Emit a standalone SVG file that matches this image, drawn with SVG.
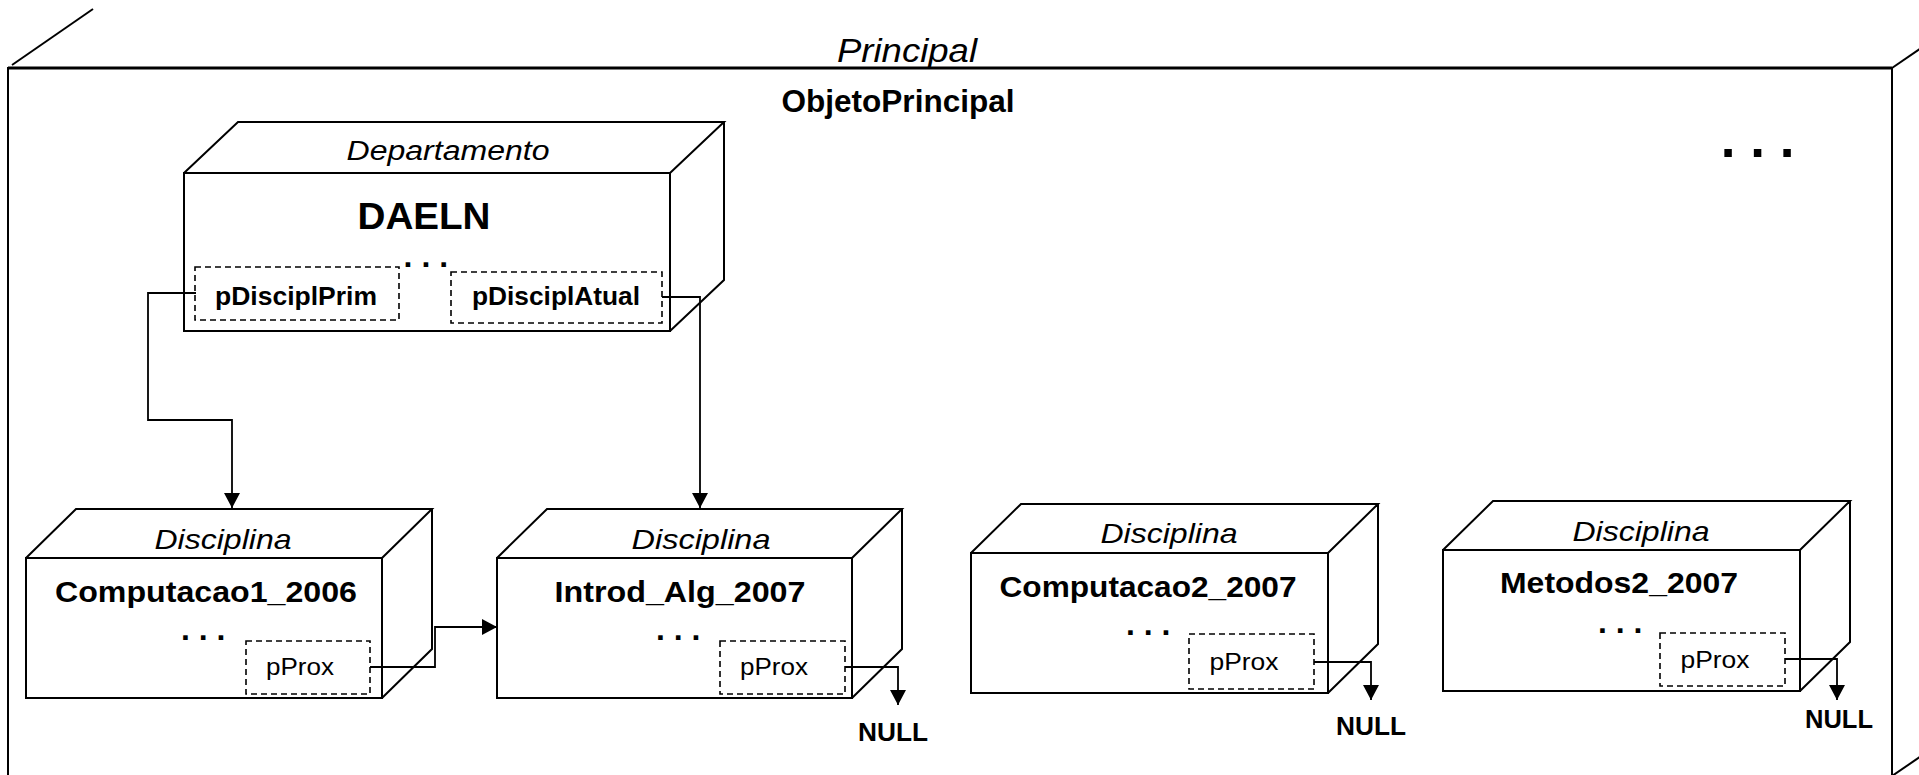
<svg xmlns="http://www.w3.org/2000/svg" width="1919" height="775" viewBox="0 0 1919 775">
  <style>
    .edge { fill: none; stroke: #000; stroke-width: 2; stroke-linejoin: miter; }
    .field { fill: none; stroke: #000; stroke-width: 1.6; stroke-dasharray: 6 4; }
    .wire { fill: none; stroke: #000; stroke-width: 1.8; }
    .t { font-family: "Liberation Sans", Arial, sans-serif; fill: #000; }
    .cls { font-style: italic; }
    .b { font-weight: bold; }
    .mid { text-anchor: middle; }
  </style>
  <defs>
    <marker id="arrow" viewBox="0 0 15 16" refX="15" refY="8" markerWidth="15" markerHeight="16" markerUnits="userSpaceOnUse" orient="auto">
      <path d="M0,0 L15,8 L0,16 z" fill="#000"/>
    </marker>
  </defs>

  <rect width="1919" height="775" fill="#fff"/>

  <!-- outer container: Principal -->
  <g id="principal">
    <path class="edge" d="M8,776 V68 H1892 V776"/>
    <path class="edge" d="M12,65 L93,9"/>
    <path class="edge" d="M1892,68 L1974,12"/>
    <path class="edge" d="M1892,776 L1974,720"/>
    <line x1="8" y1="68" x2="1892" y2="68" stroke="#000" stroke-width="3"/>
    <text class="t cls mid" x="907" y="62" font-size="33" textLength="140" lengthAdjust="spacingAndGlyphs">Principal</text>
    <text class="t b mid" x="898" y="112" font-size="32" textLength="233" lengthAdjust="spacingAndGlyphs">ObjetoPrincipal</text>
    <text class="t b" x="1720.8" y="157" font-size="53">. . .</text>
  </g>

  <!-- Departamento DAELN -->
  <g id="daeln">
    <path class="edge" d="M184,173 H670 V331 H184 Z M184,173 L238,122 H724 L670,173 M724,122 V280 L670,331"/>
    <text class="t cls mid" x="448" y="160" font-size="27" textLength="203" lengthAdjust="spacingAndGlyphs">Departamento</text>
    <text class="t b mid" x="424" y="229" font-size="37" textLength="133" lengthAdjust="spacingAndGlyphs">DAELN</text>
    <rect class="field" x="195" y="267" width="204" height="53"/>
    <text class="t b mid" x="296" y="305" font-size="25" textLength="162" lengthAdjust="spacingAndGlyphs">pDisciplPrim</text>
    <text class="t b" x="403.6" y="267" font-size="32">. . .</text>
    <rect class="field" x="451" y="272" width="211" height="51"/>
    <text class="t b mid" x="556" y="305" font-size="25" textLength="168" lengthAdjust="spacingAndGlyphs">pDisciplAtual</text>
  </g>

  <!-- Disciplina Computacao1_2006 -->
  <g id="computacao1">
    <path class="edge" d="M26,558 H382 V698 H26 Z M26,558 L76,509 H432 L382,558 M432,509 V649 L382,698"/>
    <text class="t cls mid" x="223" y="549" font-size="28" textLength="137" lengthAdjust="spacingAndGlyphs">Disciplina</text>
    <text class="t b mid" x="206" y="602" font-size="29" textLength="302" lengthAdjust="spacingAndGlyphs">Computacao1_2006</text>
    <text class="t b" x="181" y="640" font-size="32">. . .</text>
    <rect class="field" x="246" y="641" width="124" height="53"/>
    <text class="t mid" x="300" y="675" font-size="23" textLength="68" lengthAdjust="spacingAndGlyphs">pProx</text>
  </g>

  <!-- Disciplina Introd_Alg_2007 -->
  <g id="introdalg">
    <path class="edge" d="M497,558 H852 V698 H497 Z M497,558 L547,509 H902 L852,558 M902,509 V649 L852,698"/>
    <text class="t cls mid" x="701" y="549" font-size="28" textLength="139" lengthAdjust="spacingAndGlyphs">Disciplina</text>
    <text class="t b mid" x="680" y="602" font-size="29" textLength="251" lengthAdjust="spacingAndGlyphs">Introd_Alg_2007</text>
    <text class="t b" x="656" y="640" font-size="32">. . .</text>
    <rect class="field" x="720" y="641" width="125" height="53"/>
    <text class="t mid" x="774" y="675" font-size="23" textLength="68" lengthAdjust="spacingAndGlyphs">pProx</text>
  </g>

  <!-- Disciplina Computacao2_2007 -->
  <g id="computacao2">
    <path class="edge" d="M971,553 H1328 V693 H971 Z M971,553 L1021,504 H1378 L1328,553 M1378,504 V644 L1328,693"/>
    <text class="t cls mid" x="1169" y="543" font-size="28" textLength="137" lengthAdjust="spacingAndGlyphs">Disciplina</text>
    <text class="t b mid" x="1148" y="597" font-size="29" textLength="297" lengthAdjust="spacingAndGlyphs">Computacao2_2007</text>
    <text class="t b" x="1126" y="635" font-size="32">. . .</text>
    <rect class="field" x="1189" y="634" width="125" height="55"/>
    <text class="t mid" x="1244" y="670" font-size="23" textLength="69" lengthAdjust="spacingAndGlyphs">pProx</text>
  </g>

  <!-- Disciplina Metodos2_2007 -->
  <g id="metodos2">
    <path class="edge" d="M1443,550 H1800 V691 H1443 Z M1443,550 L1493,501 H1850 L1800,550 M1850,501 V642 L1800,691"/>
    <text class="t cls mid" x="1641" y="541" font-size="28" textLength="137" lengthAdjust="spacingAndGlyphs">Disciplina</text>
    <text class="t b mid" x="1619" y="593" font-size="29" textLength="238" lengthAdjust="spacingAndGlyphs">Metodos2_2007</text>
    <text class="t b" x="1598" y="633" font-size="32">. . .</text>
    <rect class="field" x="1660" y="633" width="125" height="53"/>
    <text class="t mid" x="1715" y="668" font-size="23" textLength="69" lengthAdjust="spacingAndGlyphs">pProx</text>
  </g>

  <!-- null terminators -->
  <g id="nulls">
    <text class="t b mid" x="893" y="741" font-size="26" textLength="70" lengthAdjust="spacingAndGlyphs">NULL</text>
    <text class="t b mid" x="1371" y="735" font-size="26" textLength="70" lengthAdjust="spacingAndGlyphs">NULL</text>
    <text class="t b mid" x="1839" y="728" font-size="26" textLength="68" lengthAdjust="spacingAndGlyphs">NULL</text>
  </g>

  <!-- pointer connectors -->
  <g id="connectors">
    <path class="wire" marker-end="url(#arrow)" d="M196,293 H148 V420 H232 V508"/>
    <path class="wire" marker-end="url(#arrow)" d="M662,297 H700 V508"/>
    <path class="wire" marker-end="url(#arrow)" d="M370,667 H435 V627 H497"/>
    <path class="wire" marker-end="url(#arrow)" d="M845,667 H898 V705"/>
    <path class="wire" marker-end="url(#arrow)" d="M1314,662 H1371 V700"/>
    <path class="wire" marker-end="url(#arrow)" d="M1785,659 H1837 V700"/>
  </g>
</svg>
